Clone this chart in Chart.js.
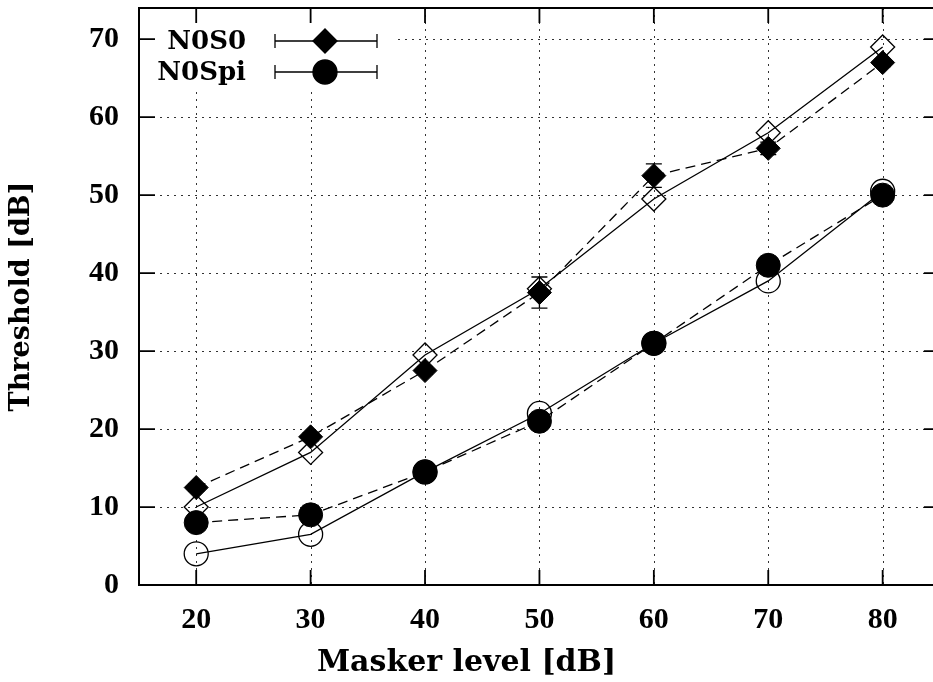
<!DOCTYPE html>
<html>
<head>
<meta charset="utf-8">
<script src="https://cdn.jsdelivr.net/npm/chart.js@4.4.1/dist/chart.umd.min.js"></script>
<style>
  html, body { margin: 0; padding: 0; background: #fff; overflow: hidden; }
  canvas { display: block; }
</style>
</head>
<body>
<canvas id="myChart" width="933" height="682"></canvas>
<script>
// data
const levels = [20, 30, 40, 50, 60, 70, 80];
const n0s0 = [12.5, 19, 27.5, 37.5, 52.5, 56, 67];
const n0s0Err = [0.5, 0.5, 0.5, 2, 1.5, 0.8, 0.5];
const n0s0Open = [10, 17, 29.5, 38, 49.5, 58, 69];
const n0spi = [8, 9, 14.5, 21, 31, 41, 50];
const n0spiErr = [0.5, 1.2, 0.5, 0.5, 0.5, 0.5, 0.5];
const n0spiOpen = [4, 6.5, 14.5, 22, 31, 39, 50.5];
const xTicks = [20, 30, 40, 50, 60, 70, 80];
const yTicks = [0, 10, 20, 30, 40, 50, 60, 70];
const legendNames = ["N0S0", "N0Spi"];
const xTitle = "Masker level [dB]";

const FONT = "'DejaVu Serif', serif";
const DIGITS = "'Liberation Serif', serif";
Chart.defaults.font.family = FONT;
Chart.defaults.font.weight = "bold";
Chart.defaults.font.size = 24;
Chart.defaults.color = "#000";

const pts = (arr) => levels.map((l, i) => ({ x: l, y: arr[i] }));

// grid, white legend box, frame, inward ticks, legend, error bars
const gnuplotLook = {
  id: "gnuplotLook",
  beforeDatasetsDraw(chart) {
    const { ctx, chartArea: a, scales: { x, y } } = chart;
    ctx.save();
    ctx.strokeStyle = "#333";
    ctx.lineWidth = 1;
    ctx.setLineDash([2, 5]);
    xTicks.forEach((v) => {
      const px = Math.round(x.getPixelForValue(v)) + 0.5;
      ctx.beginPath(); ctx.moveTo(px, a.top); ctx.lineTo(px, a.bottom); ctx.stroke();
    });
    yTicks.slice(1).forEach((v) => {
      const py = Math.round(y.getPixelForValue(v)) + 0.5;
      ctx.beginPath(); ctx.moveTo(a.left, py); ctx.lineTo(a.right, py); ctx.stroke();
    });
    ctx.setLineDash([]);
    ctx.fillStyle = "#fff";
    ctx.fillRect(a.left + 1, a.top + 1, 253, 80);
    ctx.restore();
  },
  afterDatasetsDraw(chart) {
    const { ctx, scales: { x, y } } = chart;
    ctx.save();
    ctx.strokeStyle = "#000";
    ctx.lineWidth = 1.3;
    [[n0s0, n0s0Err], [n0spi, n0spiErr]].forEach(([vals, errs]) => {
      levels.forEach((l, i) => {
        const px = x.getPixelForValue(l);
        const lo = y.getPixelForValue(vals[i] - errs[i]);
        const hi = y.getPixelForValue(vals[i] + errs[i]);
        ctx.beginPath();
        ctx.moveTo(px, lo); ctx.lineTo(px, hi);
        ctx.moveTo(px - 8, lo); ctx.lineTo(px + 8, lo);
        ctx.moveTo(px - 8, hi); ctx.lineTo(px + 8, hi);
        ctx.stroke();
      });
    });
    ctx.restore();
  },
  afterDraw(chart) {
    const { ctx, chartArea: a, scales: { x, y } } = chart;
    const right = x.getPixelForValue(85);
    ctx.save();
    ctx.strokeStyle = "#000";
    ctx.lineWidth = 2;
    ctx.beginPath();
    ctx.moveTo(right, a.top); ctx.lineTo(a.left, a.top);
    ctx.lineTo(a.left, a.bottom); ctx.lineTo(right, a.bottom);
    ctx.stroke();
    ctx.lineWidth = 1.8;
    xTicks.forEach((v) => {
      const px = x.getPixelForValue(v);
      ctx.beginPath();
      ctx.moveTo(px, a.bottom); ctx.lineTo(px, a.bottom - 15);
      ctx.moveTo(px, a.top); ctx.lineTo(px, a.top + 15);
      ctx.stroke();
    });
    yTicks.forEach((v) => {
      const py = y.getPixelForValue(v);
      ctx.beginPath();
      ctx.moveTo(a.left, py); ctx.lineTo(a.left + 16, py);
      ctx.moveTo(right, py); ctx.lineTo(right - 16, py);
      ctx.stroke();
    });

    // x title, centred on the whole picture like the original
    ctx.fillStyle = "#000";
    ctx.font = "bold 30px " + FONT;
    ctx.textAlign = "center";
    ctx.textBaseline = "middle";
    ctx.fillText(xTitle, chart.width / 2, 663);

    // legend
    const styles = ["rectRot", "circle"];
    const rows = [41, 72];
    ctx.font = "bold 26px " + FONT;
    ctx.textAlign = "right";
    rows.forEach((ry, i) => {
      ctx.fillStyle = "#000";
      ctx.fillText(legendNames[i], 246, ry + 1);
      ctx.lineWidth = 1.3;
      ctx.beginPath();
      ctx.moveTo(275, ry); ctx.lineTo(377, ry);
      ctx.moveTo(275, ry - 7); ctx.lineTo(275, ry + 7);
      ctx.moveTo(377, ry - 7); ctx.lineTo(377, ry + 7);
      ctx.stroke();
      Chart.helpers.drawPoint(ctx, { pointStyle: styles[i], radius: 12, borderWidth: 1 }, 325, ry);
    });
    ctx.restore();
  },
};

const ctx = document.getElementById("myChart");
const myChart = new Chart(ctx, {
  type: "line",
  data: {
    datasets: [
      {
        label: "N0S0",
        data: pts(n0s0),
        borderColor: "#000",
        borderWidth: 1.3,
        borderDash: [10, 6],
        pointStyle: "rectRot",
        pointRadius: 12,
        pointBackgroundColor: "#000",
        pointBorderColor: "#000",
        pointBorderWidth: 1,
        order: 0,
      },
      {
        label: "N0Spi",
        data: pts(n0spi),
        borderColor: "#000",
        borderWidth: 1.3,
        borderDash: [10, 6],
        pointStyle: "circle",
        pointRadius: 12,
        pointBackgroundColor: "#000",
        pointBorderColor: "#000",
        pointBorderWidth: 1,
        order: 0,
      },
      {
        label: "N0S0 open",
        data: pts(n0s0Open),
        borderColor: "#000",
        borderWidth: 1.3,
        pointStyle: "rectRot",
        pointRadius: 12,
        pointBackgroundColor: "rgba(0,0,0,0)",
        pointBorderColor: "#000",
        pointBorderWidth: 1.3,
        order: 1,
      },
      {
        label: "N0Spi open",
        data: pts(n0spiOpen),
        borderColor: "#000",
        borderWidth: 1.3,
        pointStyle: "circle",
        pointRadius: 12,
        pointBackgroundColor: "rgba(0,0,0,0)",
        pointBorderColor: "#000",
        pointBorderWidth: 1.3,
        order: 1,
      },
    ],
  },
  options: {
    responsive: false,
    animation: false,
    layout: { autoPadding: false, padding: { top: 8, right: 0, left: 0, bottom: 0 } },
    plugins: {
      legend: { display: false },
      tooltip: { enabled: false },
    },
    scales: {
      x: {
        type: "linear",
        min: 15,
        max: 84.4,
        afterBuildTicks: (s) => { s.ticks = xTicks.map((v) => ({ value: v })); },
        afterFit: (s) => {
          s.height = 97;
          s.paddingLeft = 0; s.paddingRight = 0; s.paddingTop = 0; s.paddingBottom = 0;
        },
        grid: { display: false, drawTicks: false },
        border: { display: false },
        ticks: { padding: 17, maxRotation: 0, autoSkip: false, font: { family: DIGITS, size: 30 } },
      },
      y: {
        type: "linear",
        min: 0,
        max: 74,
        afterBuildTicks: (s) => { s.ticks = yTicks.map((v) => ({ value: v })); },
        afterFit: (s) => {
          s.width = 139;
          s.paddingLeft = 0; s.paddingRight = 0; s.paddingTop = 0; s.paddingBottom = 0;
        },
        grid: { display: false, drawTicks: false },
        border: { display: false },
        ticks: { padding: 20, font: { family: DIGITS, size: 30 } },
        title: { display: true, text: "Threshold [dB]", font: { size: 27 }, padding: { top: 6, bottom: 0 } },
      },
    },
  },
  plugins: [gnuplotLook],
});
</script>
</body>
</html>
